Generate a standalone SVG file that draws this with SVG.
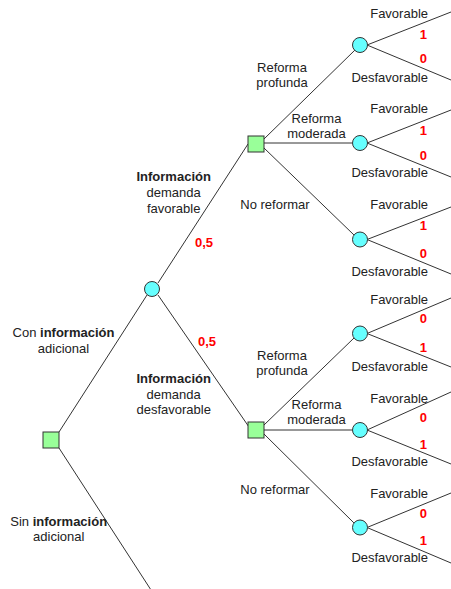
<svg xmlns="http://www.w3.org/2000/svg" width="451" height="589" viewBox="0 0 451 589">
<style>
.e{stroke:#333;stroke-width:1;fill:none}
.d{fill:#99ff99;stroke:#333;stroke-width:1}
.c{fill:#66ffff;stroke:#333;stroke-width:1}
text{font-family:"Liberation Sans",Arial,sans-serif;font-size:13px;fill:#222}
.r{fill:#ff0000;font-weight:bold;text-anchor:end}
.t{text-anchor:end}
.m{text-anchor:middle}
.b{font-weight:bold}
</style>
<rect width="451" height="589" fill="#fff"/>
<g id="connectors">
<line class="e" x1="59" y1="432" x2="147" y2="295"/>
<line class="e" x1="59" y1="448" x2="151" y2="590"/>
<line class="e" x1="158" y1="283" x2="248" y2="144"/>
<line class="e" x1="158" y1="295" x2="249" y2="427"/>
<line class="e" x1="264" y1="139" x2="355" y2="50"/>
<line class="e" x1="264" y1="143" x2="352" y2="143"/>
<line class="e" x1="264" y1="148" x2="354" y2="235"/>
<line class="e" x1="264" y1="425" x2="354" y2="338"/>
<line class="e" x1="264" y1="430" x2="352" y2="430"/>
<line class="e" x1="264" y1="434" x2="354" y2="523"/>
<line class="e" x1="367" y1="45" x2="451" y2="12"/>
<line class="e" x1="367" y1="45" x2="451" y2="80"/>
<line class="e" x1="367" y1="143" x2="451" y2="110"/>
<line class="e" x1="367" y1="143" x2="451" y2="177"/>
<line class="e" x1="367" y1="239.5" x2="451" y2="207"/>
<line class="e" x1="367" y1="239.5" x2="451" y2="274"/>
<line class="e" x1="367" y1="333.5" x2="451" y2="298"/>
<line class="e" x1="367" y1="333.5" x2="451" y2="367"/>
<line class="e" x1="367" y1="430" x2="451" y2="392"/>
<line class="e" x1="367" y1="430" x2="451" y2="464"/>
<line class="e" x1="367" y1="527.5" x2="451" y2="493"/>
<line class="e" x1="367" y1="527.5" x2="451" y2="563"/>
</g>
<g id="root"><rect class="d" x="43" y="432" width="16" height="16"/></g>
<g id="chance-info"><circle class="c" cx="152" cy="289" r="7.5"/></g>
<g id="decision-fav"><rect class="d" x="248" y="136" width="16" height="16"/></g>
<g id="decision-desf"><rect class="d" x="248" y="422" width="16" height="16"/></g>
<g id="c1"><circle class="c" cx="360" cy="45" r="7.5"/></g>
<g id="c2"><circle class="c" cx="360" cy="143" r="7.5"/></g>
<g id="c3"><circle class="c" cx="360" cy="239.5" r="7.5"/></g>
<g id="c4"><circle class="c" cx="360" cy="333.5" r="7.5"/></g>
<g id="c5"><circle class="c" cx="360" cy="430" r="7.5"/></g>
<g id="c6"><circle class="c" cx="360" cy="527.5" r="7.5"/></g>
<g id="labels">
<text class="m" x="63.5" y="337">Con <tspan class="b">información</tspan></text>
<text class="m" x="63.5" y="352.5">adicional</text>
<text class="m" x="58.7" y="526">Sin <tspan class="b">información</tspan></text>
<text class="m" x="58.7" y="541">adicional</text>
<text class="m b" x="173.7" y="180.5">Información</text>
<text class="m" x="173.7" y="197">demanda</text>
<text class="m" x="173.7" y="213">favorable</text>
<text class="r" x="213" y="247">0,5</text>
<text class="r" x="216" y="345.5">0,5</text>
<text class="m b" x="173.7" y="383">Información</text>
<text class="m" x="173.7" y="399">demanda</text>
<text class="m" x="173.7" y="414">desfavorable</text>
<text class="m" x="282" y="71.5">Reforma</text>
<text class="m" x="282" y="86.5">profunda</text>
<text class="m" x="316.5" y="122.5">Reforma</text>
<text class="m" x="316.5" y="137.5">moderada</text>
<text class="m" x="275" y="209">No reformar</text>
<text class="m" x="282" y="360">Reforma</text>
<text class="m" x="282" y="375">profunda</text>
<text class="m" x="316.5" y="409">Reforma</text>
<text class="m" x="316.5" y="424">moderada</text>
<text class="m" x="275" y="494">No reformar</text>
<text class="t" x="428" y="18">Favorable</text>
<text class="r" x="427" y="39">1</text>
<text class="r" x="427" y="63">0</text>
<text class="t" x="428" y="82">Desfavorable</text>
<text class="t" x="428" y="113">Favorable</text>
<text class="r" x="427" y="135">1</text>
<text class="r" x="427" y="160">0</text>
<text class="t" x="428" y="177">Desfavorable</text>
<text class="t" x="428" y="209">Favorable</text>
<text class="r" x="427" y="230">1</text>
<text class="r" x="427" y="258">0</text>
<text class="t" x="428" y="276">Desfavorable</text>
<text class="t" x="428" y="304">Favorable</text>
<text class="r" x="427" y="323">0</text>
<text class="r" x="427" y="352">1</text>
<text class="t" x="428" y="371">Desfavorable</text>
<text class="t" x="428" y="403">Favorable</text>
<text class="r" x="427" y="422">0</text>
<text class="r" x="427" y="449">1</text>
<text class="t" x="428" y="466">Desfavorable</text>
<text class="t" x="428" y="498">Favorable</text>
<text class="r" x="427" y="518">0</text>
<text class="r" x="427" y="545">1</text>
<text class="t" x="428" y="562">Desfavorable</text>
</g>
</svg>
